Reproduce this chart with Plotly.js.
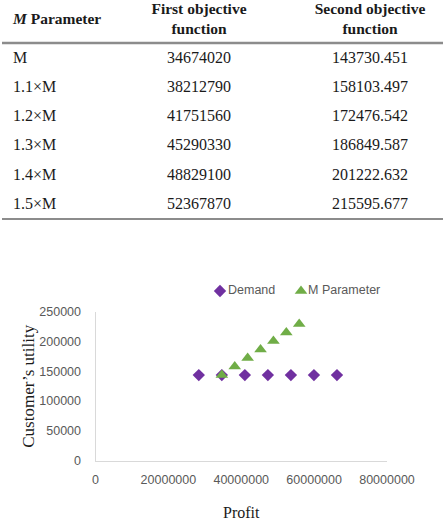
<!DOCTYPE html>
<html>
<head>
<meta charset="utf-8">
<script src="https://cdn.plot.ly/plotly-3.0.1.min.js"></script>
<style>
  html, body { margin: 0; padding: 0; background: #ffffff; }
  #chart { width: 443px; height: 521px; }
</style>
</head>
<body>
<div id="chart"></div>
<script>
// Table contents: scaling of the M parameter and the two objective values
const mLabels = ["M", "1.1×M", "1.2×M", "1.3×M", "1.4×M", "1.5×M"];
const firstObjective = [34674020, 38212790, 41751560, 45290330, 48829100, 52367870];
const secondObjective = [143730.451, 158103.497, 172476.542, 186849.587, 201222.632, 215595.677];
const tableHeaders = ["<i>M</i> Parameter", "First objective<br>function", "Second objective<br>function"];

// Scatter series: profit vs. customer's utility
const seriesNames = ["Demand", "M Parameter"];
const demandProfit = [28350000, 34674020, 40990000, 47310000, 53630000, 59950000, 66270000];
const demandUtility = [143730.451, 143730.451, 143730.451, 143730.451, 143730.451, 143730.451, 143730.451];
const mParamProfit = firstObjective.concat([55906640]);
const mParamUtility = secondObjective.concat([229968.722]);

const xTicks = [0, 20000000, 40000000, 60000000, 80000000];
const yTicks = [0, 50000, 100000, 150000, 200000, 250000];

const W = 443, H = 521;
const serif = "Liberation Serif, Times New Roman, serif";
const sans = "Liberation Sans, Arial, sans-serif";
const tickGray = "#595959";
const lineGray = "#d9d9d9";
const purple = "#7030a0", green = "#70ad47";
const diamondMarker = { symbol: "diamond", size: 9.5, color: purple };
const triangleMarker = { symbol: "triangle-up", size: 11, color: green };

// Table grid: one unit on y2 is one table row
const rowTop = 58.5, rowStep = 29.3;
const y2lo = -rowTop / rowStep, y2hi = (H - rowTop) / rowStep;
const colX = [13, 199, 370];
const rowIdx = mLabels.map((_, i) => i);
const headerRow = -1.31;

const cellFont = { family: serif, size: 16, color: "#1a1a1a" };
const headFont = { family: serif, size: 15.5, color: "#1a1a1a" };
const legendFont = { family: sans, size: 12.5, color: tickGray };

function textTrace(axes, xs, ys, texts, pos, font) {
  return {
    type: "scatter", mode: "text", xaxis: axes[0], yaxis: axes[1],
    x: xs, y: ys, text: texts, textposition: pos, textfont: font,
    showlegend: false, hoverinfo: "skip", cliponaxis: false
  };
}

// Legend row above the plot (pixel-scaled helper axes x3/y3)
const legendY = 291;
const legendMarkX = [220, 301];
const legendTextX = [228, 308];

const traces = [
  // table header
  textTrace(["x2", "y2"], [colX[0]], [headerRow], ["<b>" + tableHeaders[0] + "</b>"], "middle right", headFont),
  textTrace(["x2", "y2"], [colX[1], colX[2]], [headerRow, headerRow],
    tableHeaders.slice(1).map(t => "<b>" + t + "</b>"), "middle center", headFont),
  // table body
  textTrace(["x2", "y2"], rowIdx.map(() => colX[0]), rowIdx, mLabels, "middle right", cellFont),
  textTrace(["x2", "y2"], rowIdx.map(() => colX[1]), rowIdx, firstObjective.map(String), "middle center", cellFont),
  textTrace(["x2", "y2"], rowIdx.map(() => colX[2]), rowIdx, secondObjective.map(String), "middle center", cellFont),
  // chart series
  {
    type: "scatter", mode: "markers", name: seriesNames[0],
    x: demandProfit, y: demandUtility, marker: diamondMarker,
    showlegend: false, cliponaxis: false
  },
  {
    type: "scatter", mode: "markers", name: seriesNames[1],
    x: mParamProfit, y: mParamUtility, marker: triangleMarker,
    showlegend: false, cliponaxis: false
  },
  // legend keys
  {
    type: "scatter", mode: "markers", xaxis: "x3", yaxis: "y3",
    x: [legendMarkX[0]], y: [legendY], marker: diamondMarker,
    showlegend: false, hoverinfo: "skip", cliponaxis: false
  },
  {
    type: "scatter", mode: "markers", xaxis: "x3", yaxis: "y3",
    x: [legendMarkX[1]], y: [legendY], marker: triangleMarker,
    showlegend: false, hoverinfo: "skip", cliponaxis: false
  },
  textTrace(["x3", "y3"], legendTextX, [legendY, legendY], seriesNames, "middle right", legendFont)
];

const layout = {
  width: W, height: H,
  margin: { l: 0, r: 0, t: 0, b: 0 },
  paper_bgcolor: "#ffffff", plot_bgcolor: "rgba(0,0,0,0)",
  showlegend: false,
  xaxis: {
    domain: [95.5 / W, 387 / W], range: [0, 80000000], autorange: false,
    tickmode: "array", tickvals: xTicks, ticktext: xTicks.map(String),
    showgrid: false, zeroline: false, showline: true, linecolor: lineGray, linewidth: 1,
    ticks: "", ticklabelstandoff: 7,
    tickfont: { family: sans, size: 12.5, color: tickGray },
    title: { text: "Profit", font: { family: serif, size: 16, color: "#1a1a1a" }, standoff: 22 },
    automargin: false
  },
  yaxis: {
    domain: [(H - 460.5) / H, (H - 312) / H], range: [0, 250000], autorange: false,
    tickmode: "array", tickvals: yTicks, ticktext: yTicks.map(String),
    showgrid: false, zeroline: false, showline: true, linecolor: lineGray, linewidth: 1,
    ticks: "", ticklabelstandoff: 11,
    tickfont: { family: sans, size: 12.5, color: tickGray },
    title: { text: "Customer’s utility", font: { family: serif, size: 17, color: "#1a1a1a" }, standoff: 0 },
    automargin: false
  },
  xaxis2: { domain: [0, 1], range: [0, W], visible: false, fixedrange: true },
  yaxis2: { domain: [0, 1], range: [y2hi, y2lo], visible: false, fixedrange: true },
  xaxis3: { domain: [0, 1], range: [0, W], visible: false, fixedrange: true },
  yaxis3: { domain: [0, 1], range: [H, 0], visible: false, fixedrange: true },
  shapes: [
    { type: "line", xref: "x2", yref: "y2", x0: 2, x1: 443, y0: -0.53, y1: -0.53,
      line: { color: "#8c8c8c", width: 2.5 } },
    { type: "line", xref: "x2", yref: "y2", x0: 2, x1: 443, y0: 5.48, y1: 5.48,
      line: { color: "#8c8c8c", width: 2 } }
  ]
};

Plotly.newPlot("chart", traces, layout, { displayModeBar: false, staticPlot: true });
</script>
</body>
</html>
